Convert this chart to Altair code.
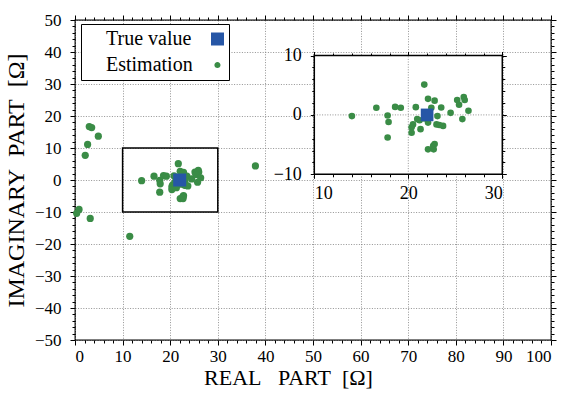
import altair as alt
import pandas as pd

# ---- data ----
est_real = [14.0, 16.6, 17.8, 17.9, 17.8, 18.6, 19.2, 20.8, 21.7, 22.1, 22.8, 23.5,
            24.5, 25.2, 25.9, 26.0, 25.4, 26.4, 25.75, 23.1, 23.0, 23.7, 22.1, 21.2,
            20.5, 20.35, 20.35, 21.3, 20.95, 22.1, 22.7, 22.8, 22.65, 23.3, 21.7, 22.45,
            3.0, 3.5, 4.9, 2.65, 2.15, 0.85, 0.35, 3.2, 11.5, 37.9]
est_imag = [-0.2, 1.2, -0.1, -1.2, -3.8, 1.35, 1.2, 1.3, 5.1, 2.7, 2.4, 1.25,
            0.35, 2.5, 3.0, 2.5, 1.7, 0.7, -0.7, -0.2, -1.6, -1.85, -1.3, -0.9,
            -1.6, -2.1, -3.0, -2.4, -0.7, -5.8, -5.8, -4.9, -5.2, -1.7, -0.6, 1.2,
            16.7, 16.4, 13.7, 11.1, 7.7, -9.2, -10.4, -12.0, -17.6, 4.4]
true_real = [22.0]
true_imag = [0.0]
series_names = ["True value", "Estimation"]
series_colors = ["#2656a6", "#3a8c46"]

x_major = list(range(0, 101, 10))
x_minor = [v for v in range(0, 101, 2) if v % 10]
y_major = list(range(-50, 51, 10))
y_minor = [v for v in range(-50, 51, 2) if v % 10]
zoom_x = [10, 30]
zoom_y = [-10, 10]
inset_x_major = [10, 20, 30]
inset_x_minor = [12, 14, 16, 18, 22, 24, 26, 28]
inset_y_major = [-10, 0, 10]
inset_y_minor = [-8, -6, -4, -2, 2, 4, 6, 8]

pts = pd.DataFrame({
    "re": est_real + true_real,
    "im": est_imag + true_imag,
    "series": [series_names[1]] * len(est_real) + [series_names[0]] * len(true_real),
})
box = pd.DataFrame({"x0": [zoom_x[0]], "x1": [zoom_x[1]], "y0": [zoom_y[0]], "y1": [zoom_y[1]]})
grid_v = pd.DataFrame({"gx": [v for v in inset_x_major if zoom_x[0] < v < zoom_x[1]]})
grid_v["y0"] = zoom_y[0]
grid_v["y1"] = zoom_y[1]
grid_h = pd.DataFrame({"gy": [v for v in inset_y_major if zoom_y[0] < v < zoom_y[1]]})
grid_h["x0"] = zoom_x[0]
grid_h["x1"] = zoom_x[1]

FONT = "Liberation Serif"
W, H = 476, 320
GRID_DASH = [1, 1.6]
GRID_COLOR = "#777"
NB = "\u00a0"

xs_main = alt.Scale(domain=[0, 100], nice=False, zero=False)
ys_main = alt.Scale(domain=[-50, 50], nice=False, zero=False)
xs_in = alt.Scale(domain=zoom_x, range=[239.3, 427.3], nice=False, zero=False)
ys_in = alt.Scale(domain=zoom_y, range=[154.3, 35.5], nice=False, zero=False)

# legend symbols drawn to the right of their labels (custom unit-square paths)
legend_shapes = ["M17.69,-1H19.69V1H17.69Z",
                 "M38.4,0A1,1 0 1,0 40.4,0A1,1 0 1,0 38.4,0Z"]


def tick_axis(orient, values, size, offset=0, z=0):
    return alt.Axis(orient=orient, values=values, tickSize=size, labels=False,
                    domain=False, grid=False, title=None, ticks=True,
                    tickColor="black", tickWidth=1, offset=offset, zindex=z)


# ---- main panel ----
main_pts = alt.Chart(pts).mark_point(filled=True, opacity=1).encode(
    x=alt.X("re:Q", scale=xs_main, axis=alt.Axis(
        orient="bottom", values=x_major, title=f"REAL{NB*3}PART{NB*2}[\u03a9]",
        grid=True, gridDash=GRID_DASH, gridColor=GRID_COLOR, gridWidth=0.8,
        domain=False, tickSize=5, tickColor="black", labelPadding=3,
        labelFont=FONT, labelFontSize=17, labelColor="black",
        titleFont=FONT, titleFontSize=22, titleFontWeight="normal", titleColor="black",
        titlePadding=3, titleX=213)),
    y=alt.Y("im:Q", scale=ys_main, axis=alt.Axis(
        orient="left", values=y_major, title=f"IMAGINARY{NB*2}PART{NB*2}[\u03a9]",
        grid=True, gridDash=GRID_DASH, gridColor=GRID_COLOR, gridWidth=0.8,
        domain=False, tickSize=5, tickColor="black", labelPadding=9,
        labelFont=FONT, labelFontSize=17, labelColor="black",
        titleFont=FONT, titleFontSize=24, titleFontWeight="normal", titleColor="black",
        titlePadding=6)),
    color=alt.Color("series:N", scale=alt.Scale(domain=series_names, range=series_colors), legend=None),
    shape=alt.Shape("series:N", scale=alt.Scale(domain=series_names, range=["square", "circle"]), legend=None),
    size=alt.Size("series:N", scale=alt.Scale(domain=series_names, range=[169, 52]), legend=None),
)

main_minor = alt.Chart(pts).mark_point(opacity=0).encode(
    x=alt.X("re:Q", scale=xs_main, axis=tick_axis("bottom", x_minor, 3)),
    y=alt.Y("im:Q", scale=ys_main, axis=tick_axis("left", y_minor, 3)),
)
main_top_major = alt.Chart(pts).mark_point(opacity=0).encode(
    x=alt.X("re:Q", scale=xs_main, axis=tick_axis("top", x_major, 5)),
    y=alt.Y("im:Q", scale=ys_main, axis=tick_axis("right", y_major, 5)),
)
main_top_minor = alt.Chart(pts).mark_point(opacity=0).encode(
    x=alt.X("re:Q", scale=xs_main, axis=tick_axis("top", x_minor, 3)),
    y=alt.Y("im:Q", scale=ys_main, axis=tick_axis("right", y_minor, 3)),
)
main_box = alt.Chart(box).mark_rect(fillOpacity=0, stroke="black", strokeWidth=1.5).encode(
    x=alt.X("x0:Q", scale=xs_main, axis=None), x2="x1:Q",
    y=alt.Y("y0:Q", scale=ys_main, axis=None), y2="y1:Q",
)

main = alt.layer(main_pts, main_minor, main_top_major, main_top_minor, main_box).resolve_axis(
    x="independent", y="independent")

# ---- inset panel ----
inset_bg = alt.Chart(box).mark_rect(fill="white", stroke="black", strokeWidth=1.5).encode(
    x=alt.X("x0:Q", scale=xs_in, axis=alt.Axis(
        orient="bottom", values=inset_x_major, title=None, grid=False, domain=False,
        tickSize=4, tickColor="black", offset=-165.7, labelPadding=6, zindex=1,
        labelFont=FONT, labelFontSize=18, labelColor="black")),
    x2="x1:Q",
    y=alt.Y("y0:Q", scale=ys_in, axis=alt.Axis(
        orient="left", values=inset_y_major, title=None, grid=False, domain=False,
        tickSize=4, tickColor="black", offset=-239.3, labelPadding=9, zindex=1,
        labelFont=FONT, labelFontSize=18, labelColor="black")),
    y2="y1:Q",
)
inset_gv = alt.Chart(grid_v).mark_rule(color=GRID_COLOR, strokeDash=GRID_DASH, strokeWidth=0.8).encode(
    x=alt.X("gx:Q", scale=xs_in, axis=None),
    y=alt.Y("y0:Q", scale=ys_in, axis=None), y2="y1:Q",
)
inset_gh = alt.Chart(grid_h).mark_rule(color=GRID_COLOR, strokeDash=GRID_DASH, strokeWidth=0.8).encode(
    y=alt.Y("gy:Q", scale=ys_in, axis=None),
    x=alt.X("x0:Q", scale=xs_in, axis=None), x2="x1:Q",
)
inset_pts = alt.Chart(pts).mark_point(filled=True, opacity=1).encode(
    x=alt.X("re:Q", scale=xs_in, axis=None),
    y=alt.Y("im:Q", scale=ys_in, axis=None),
    color=alt.Color("series:N", scale=alt.Scale(domain=series_names, range=series_colors), legend=None),
    shape=alt.Shape("series:N", scale=alt.Scale(domain=series_names, range=["square", "circle"]), legend=None),
    size=alt.Size("series:N", scale=alt.Scale(domain=series_names, range=[160, 44]), legend=None),
).transform_filter(
    (alt.datum.re >= zoom_x[0]) & (alt.datum.re <= zoom_x[1])
    & (alt.datum.im >= zoom_y[0]) & (alt.datum.im <= zoom_y[1])
)
inset_minor = alt.Chart(pts).mark_point(opacity=0).encode(
    x=alt.X("re:Q", scale=xs_in, axis=tick_axis("bottom", inset_x_minor, 2.5, -165.7, 1)),
    y=alt.Y("im:Q", scale=ys_in, axis=tick_axis("left", inset_y_minor, 2.5, -239.3, 1)),
).transform_filter(alt.datum.re < -1000)
inset_top_major = alt.Chart(pts).mark_point(opacity=0).encode(
    x=alt.X("re:Q", scale=xs_in, axis=tick_axis("top", inset_x_major, 4, -35.5, 1)),
    y=alt.Y("im:Q", scale=ys_in, axis=tick_axis("right", inset_y_major, 4, -48.7, 1)),
).transform_filter(alt.datum.re < -1000)
inset_top_minor = alt.Chart(pts).mark_point(opacity=0).encode(
    x=alt.X("re:Q", scale=xs_in, axis=tick_axis("top", inset_x_minor, 2.5, -35.5, 1)),
    y=alt.Y("im:Q", scale=ys_in, axis=tick_axis("right", inset_y_minor, 2.5, -48.7, 1)),
).transform_filter(alt.datum.re < -1000)

inset = alt.layer(inset_bg, inset_gv, inset_gh, inset_pts, inset_minor,
                  inset_top_major, inset_top_minor).resolve_axis(x="independent", y="independent")

# ---- legend (its own scales; symbols sit to the right of the labels) ----
def legend():
    return alt.Legend(orient="none", legendX=6, legendY=4, title=None,
                      fillColor="white", strokeColor="black", padding=5,
                      labelFont=FONT, labelFontSize=20, labelColor="black",
                      labelOffset=0, rowPadding=6, symbolStrokeWidth=0, symbolOpacity=1)


legend_layer = alt.Chart(pts).mark_point(filled=True, opacity=0).encode(
    color=alt.Color("series:N", scale=alt.Scale(domain=series_names, range=series_colors), legend=legend()),
    shape=alt.Shape("series:N", scale=alt.Scale(domain=series_names, range=legend_shapes), legend=legend()),
    size=alt.Size("series:N", scale=alt.Scale(domain=series_names, range=[169, 38]), legend=legend()),
).transform_filter(alt.datum.re < -1000)

chart = alt.layer(main, inset, legend_layer).resolve_scale(
    x="independent", y="independent", color="independent", shape="independent", size="independent"
).resolve_axis(x="independent", y="independent").properties(
    width=W, height=H,
    autosize=alt.AutoSizeParams(type="none"),
    padding={"left": 75, "top": 20, "right": 17, "bottom": 54},
    background="white",
).configure_view(stroke="black", strokeWidth=1.3)

chart.save("out.html", embed_options={"renderer": "svg", "actions": False})
